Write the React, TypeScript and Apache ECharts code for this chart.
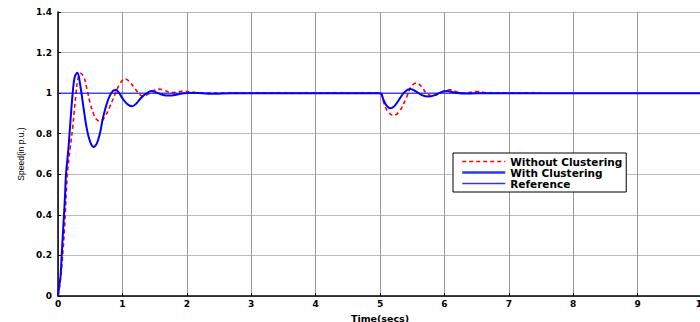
import React, { useEffect, useRef } from "react";
import * as echarts from "echarts";

const xTicks = [0, 1, 2, 3, 4, 5, 6, 7, 8, 9, 10];
const yTicks = [0, 0.2, 0.4, 0.6, 0.8, 1, 1.2, 1.4];

const withoutT = [0, 0.03, 0.06, 0.1, 0.145, 0.186, 0.228, 0.255, 0.28, 0.31, 0.35, 0.4, 0.45, 0.5, 0.55, 0.6, 0.65, 0.72, 0.8, 0.88, 0.95, 1.04, 1.1, 1.2, 1.28, 1.33, 1.4, 1.5, 1.56, 1.65, 1.75, 1.85, 1.95, 2.05, 2.3, 3, 4, 5, 5.05, 5.12, 5.21, 5.3, 5.4, 5.48, 5.57, 5.65, 5.72, 5.8, 5.9, 6.0, 6.09, 6.2, 6.3, 6.5, 6.7, 7.5];
const withoutV = [0, 0.06, 0.15, 0.33, 0.6, 0.72, 0.83, 0.92, 1.0, 1.07, 1.098, 1.08, 1.02, 0.95, 0.9, 0.87, 0.862, 0.88, 0.93, 0.99, 1.04, 1.07, 1.06, 1.02, 0.99, 0.985, 0.995, 1.015, 1.02, 1.015, 1.003, 1.005, 1.01, 1.005, 1.0, 1.0, 1.0, 1.0, 0.96, 0.91, 0.89, 0.91, 0.97, 1.03, 1.05, 1.03, 1.0, 0.987, 0.995, 1.01, 1.016, 1.005, 1.0, 1.008, 1.0, 1.0];

const withT = [0, 0.02, 0.04, 0.057, 0.075, 0.093, 0.11, 0.124, 0.16, 0.186, 0.228, 0.26, 0.3, 0.34, 0.4, 0.45, 0.5, 0.55, 0.6, 0.65, 0.7, 0.78, 0.85, 0.9, 0.95, 1.0, 1.08, 1.15, 1.22, 1.3, 1.38, 1.45, 1.55, 1.65, 1.72, 1.85, 1.95, 2.1, 2.4, 2.7, 3, 4, 5, 5.05, 5.1, 5.16, 5.22, 5.3, 5.38, 5.47, 5.55, 5.65, 5.75, 5.85, 5.95, 6.04, 6.15, 6.35, 6.6, 10];
const withV = [0, 0.05, 0.1, 0.2, 0.3, 0.4, 0.5, 0.6, 0.72, 0.83, 1.0, 1.08, 1.1, 1.05, 0.92, 0.82, 0.76, 0.735, 0.75, 0.8, 0.88, 0.97, 1.01, 1.015, 1.0, 0.975, 0.945, 0.935, 0.95, 0.98, 1.0, 1.01, 1.0, 0.99, 0.988, 0.993, 1.0, 1.002, 0.997, 1.0, 1.0, 1.0, 1.0, 0.97, 0.94, 0.925, 0.935, 0.97, 1.005, 1.02, 1.01, 0.99, 0.983, 0.99, 1.005, 1.01, 1.003, 0.998, 1.0, 1.0];

const refT = [0, 10];
const refV = [1, 1];

const names = ["Without Clustering", "With Clustering", "Reference"];

const zip = (t: number[], v: number[]) => t.map((x, i) => [x, v[i]]);

export default function App() {
  const ref = useRef<HTMLDivElement>(null);
  useEffect(() => {
    if (!ref.current) return;
    const chart = echarts.init(ref.current, undefined, { renderer: "svg" });
    const labelFont = {
      fontFamily: "DejaVu Sans",
      fontWeight: "bold" as const,
      fontSize: 9,
      color: "#000",
    };
    chart.setOption({
      animation: false,
      backgroundColor: "#fff",
      grid: {
        left: 58,
        top: 12,
        width: 644,
        height: 284,
        containLabel: false,
        outerBoundsMode: "none",
      },
      xAxis: {
        type: "value",
        min: 0,
        max: 10,
        interval: 1,
        name: "Time(secs)",
        nameLocation: "middle",
        nameGap: 17,
        nameTextStyle: { ...labelFont, fontSize: 9.5 },
        axisLine: { show: true, lineStyle: { color: "#000", width: 1.5 } },
        axisTick: { show: true, inside: true, length: 3, lineStyle: { color: "#000" } },
        axisLabel: { ...labelFont, margin: 3, formatter: (v: number) => (xTicks.includes(v) ? String(v) : "") },
        splitLine: { show: true, lineStyle: { color: "#999", width: 1 } },
      },
      yAxis: {
        type: "value",
        min: 0,
        max: 1.4,
        interval: 0.2,
        name: "Speed(in p.u.)",
        nameLocation: "middle",
        nameGap: 33,
        nameTextStyle: { fontFamily: "Liberation Sans", fontSize: 8.5, color: "#000" },
        axisLine: { show: true, lineStyle: { color: "#000", width: 1.5 } },
        axisTick: { show: true, inside: true, length: 3, lineStyle: { color: "#000" } },
        axisLabel: {
          ...labelFont,
          margin: 6,
          formatter: (v: number) => {
            const t = yTicks.find((y) => Math.abs(y - v) < 1e-6);
            return t === undefined ? "" : String(t);
          },
        },
        splitLine: { show: true, lineStyle: { color: "#bbb", width: 1 } },
      },
      legend: {
        orient: "vertical",
        left: 453,
        top: 153,
        backgroundColor: "#fff",
        borderColor: "#000",
        borderWidth: 1,
        borderRadius: 0,
        padding: [3, 4, 3, 8],
        itemWidth: 43,
        itemHeight: 11,
        itemGap: 0,
        itemStyle: { opacity: 0 },
        textStyle: { fontFamily: "DejaVu Sans", fontWeight: "bold", fontSize: 10.5, color: "#000" },
        data: [
          { name: names[0], lineStyle: { width: 1.3, color: "#ff0000" } },
          { name: names[1], lineStyle: { width: 2.5, color: "#3333ff" } },
          { name: names[2], lineStyle: { width: 1.3, color: "#3333ff" } },
        ],
      },
      series: [
        {
          name: names[0],
          type: "line",
          data: zip(withoutT, withoutV),
          smooth: 0.4,
          symbol: "none",
          lineStyle: { color: "#ff0000", width: 1.6, type: [4, 3] },
          itemStyle: { color: "#ff0000" },
        },
        {
          name: names[1],
          type: "line",
          data: zip(withT, withV),
          smooth: 0.4,
          symbol: "none",
          lineStyle: { color: "#0000ff", width: 2 },
          itemStyle: { color: "#0000ff" },
        },
        {
          name: names[2],
          type: "line",
          data: zip(refT, refV),
          symbol: "none",
          lineStyle: { color: "#0000ff", width: 1 },
          itemStyle: { color: "#0000ff" },
        },
      ],
    });
    return () => chart.dispose();
  }, []);
  return (
    <div
      ref={ref}
      style={{ position: "absolute", left: 0, top: 0, width: 700, height: 322 }}
    />
  );
}
